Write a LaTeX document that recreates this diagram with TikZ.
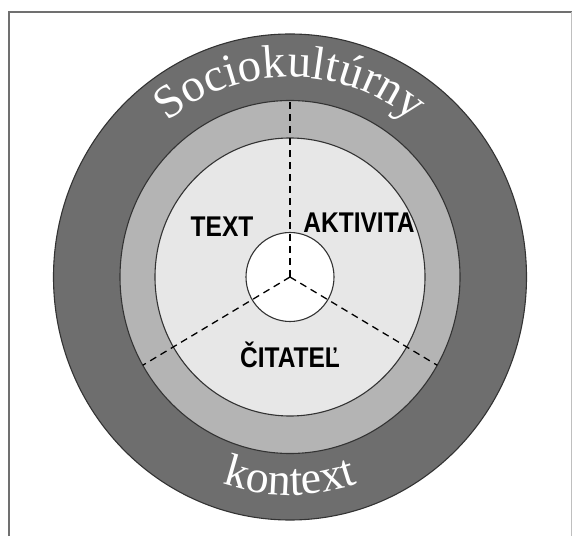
\documentclass[tikz,border=0pt]{standalone}
\usepackage{fontspec}
\setmainfont{Liberation Serif}
\newfontfamily\lblfont{Liberation Sans}[FakeStretch=0.86]
\usetikzlibrary{decorations.text,calc}
\definecolor{ringdark}{HTML}{6E6E6E}
\definecolor{ringmid}{HTML}{B4B4B4}
\definecolor{ringlight}{HTML}{E7E7E7}
\definecolor{framegray}{HTML}{707070}
\tikzset{
  ring/.style={draw=black!80, line width=1.1pt},
  divider/.style={draw=black, line width=1.3pt, dash pattern=on 7pt off 5pt},
  lbl/.style={font=\lblfont\bfseries\fontsize{28.5}{30}\selectfont, anchor=base, inner sep=0pt},
  curved/.style 2 args={decorate, decoration={text along path, text align=center, text color=white,
     text={|\fontsize{#2}{50}\selectfont|#1}}}
}
\begin{document}
\begin{tikzpicture}[x=1pt,y=1pt]
\useasboundingbox (0,0) rectangle (573,536);
% frame
\draw[framegray, line width=2pt] (9,0) -- (9,524) -- (572,524);
\draw[black!25, line width=1pt] (571.5,524) -- (571.5,0);
\coordinate (C) at (290,259);
% rings
\fill[ringdark, ring] (C) ellipse [x radius=236.5pt, y radius=243pt];
\fill[ringmid, ring] (C) ellipse [x radius=170pt, y radius=176.5pt];
\fill[ringlight, ring] (C) ellipse [x radius=135pt, y radius=139pt];
\fill[white, ring] (C) ellipse [x radius=44pt, y radius=44.5pt];
% dividers
\coordinate (d1) at ($(C)+(0,176.5)$);
\coordinate (d2) at ($(C)+({-170*cos(30)},{-176.5*sin(30)})$);
\coordinate (d3) at ($(C)+({170*cos(30)},{-176.5*sin(30)})$);
\draw[divider] (C) -- (d1);
\draw[divider] (C) -- (d2);
\draw[divider] (C) -- (d3);
% labels
\node[lbl] (text) at (222,299) {TEXT};
\node[lbl] (akt) at (359,303) {AKTIVITA};
\node[lbl] (cit) at (290,168) {ČITATEĽ};
% curved texts
\path[curved={Sociokultúrny}{47}] ($(C)+(-195,0)$) arc[start angle=180, end angle=0, x radius=195pt, y radius=200pt];
\path[curved={kontext}{46}] ($(C)+(-212,0)$) arc[start angle=180, end angle=360, x radius=212pt, y radius=218pt];
\end{tikzpicture}
\end{document}
